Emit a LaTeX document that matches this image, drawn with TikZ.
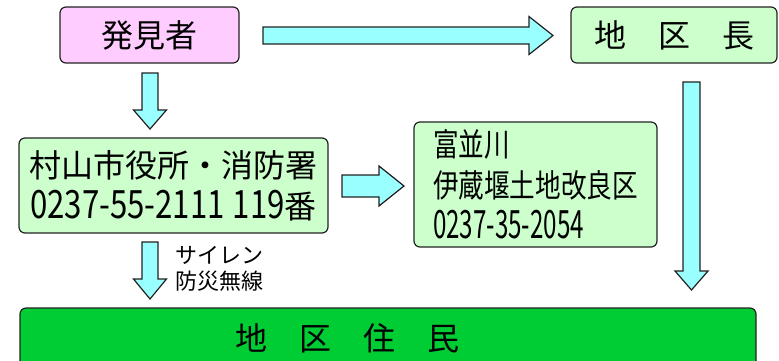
\documentclass[tikz,border=0pt]{standalone}
\usepackage{fontspec}
\setmainfont{Noto Sans CJK JP}
\newfontfamily\narrowjp[FakeStretch=0.8]{Noto Sans CJK JP}
\newfontfamily\numA[FakeStretch=0.8]{Noto Sans CJK JP}
\newfontfamily\numB[FakeStretch=0.62]{Noto Sans CJK JP}
\definecolor{pinkbox}{HTML}{FFCCFF}
\definecolor{lgreen}{HTML}{CCFFCC}
\definecolor{dgreen}{HTML}{00CC33}
\definecolor{acyan}{HTML}{99FFFF}
\definecolor{edge}{HTML}{222222}
\newcommand{\downblock}[5]{% cx, half shaft, top, head start, tip ; head half=16.5
  \draw[barrow] ({#1-#2},#3) -- ({#1+#2},#3) -- ({#1+#2},#4) -- ({#1+16.5},#4) -- (#1,#5)
    -- ({#1-16.5},#4) -- ({#1-#2},#4) -- cycle;}
\newcommand{\rightblock}[6]{% cy, half shaft, start, head start, tip, head half
  \draw[barrow] (#3,{#1-#2}) -- (#4,{#1-#2}) -- (#4,{#1-#6}) -- (#5,#1) -- (#4,{#1+#6})
    -- (#4,{#1+#2}) -- (#3,{#1+#2}) -- cycle;}
\begin{document}
\begin{tikzpicture}[x=1pt,y=-1pt,
  box/.style={draw=edge, line width=1.2pt, rounded corners=6pt, inner sep=0pt},
  barrow/.style={draw=edge, line width=1.2pt, fill=acyan, line join=miter},
  big/.style={font=\fontsize{32}{41}\selectfont}]
\useasboundingbox (0,0) rectangle (779,360);
\clip (0,0) rectangle (779,360);
% boxes
\node[box, big, fill=pinkbox, minimum width=179pt, minimum height=56pt] (finder) at (149.5,35) {発見者};
\node[box, big, fill=lgreen, minimum width=206pt, minimum height=56pt] (chief) at (674,35) {地　区　長};
\node[box, big, fill=lgreen, minimum width=309pt, minimum height=95pt, align=center] (city) at (173.5,185.5)
  {村山市役所・消防署\\{\numA\fontsize{39}{41}\selectfont 0237-55-2111\hspace{8pt}119}番};
\node[box, fill=lgreen, minimum width=243pt, minimum height=125pt, text width=205pt, align=left,
  font=\narrowjp\fontsize{32}{41}\selectfont] (land) at (535.5,184.5)
  {富並川\\伊蔵堰土地改良区\\{\numB\fontsize{39}{41}\selectfont 0237-35-2054}};
\node[box, fill=dgreen, minimum width=736pt, minimum height=62pt] (residentsbox) at (388,339) {};
\node[big, inner sep=0pt] (residents) at (347,338) {地　区　住　民};
\node[anchor=west, inner sep=0pt, align=left, font=\fontsize{22}{26}\selectfont] (siren) at (175,269)
  {サイレン\\防災無線};
% block arrows
\rightblock{35.5}{8.5}{263}{529}{553}{19}
\rightblock{186}{11}{342}{379}{404}{20}
\downblock{150}{8}{73}{110}{129}
\downblock{150}{8}{242}{279}{299}
\downblock{691.5}{8.5}{82}{271}{290}
\end{tikzpicture}
\end{document}
